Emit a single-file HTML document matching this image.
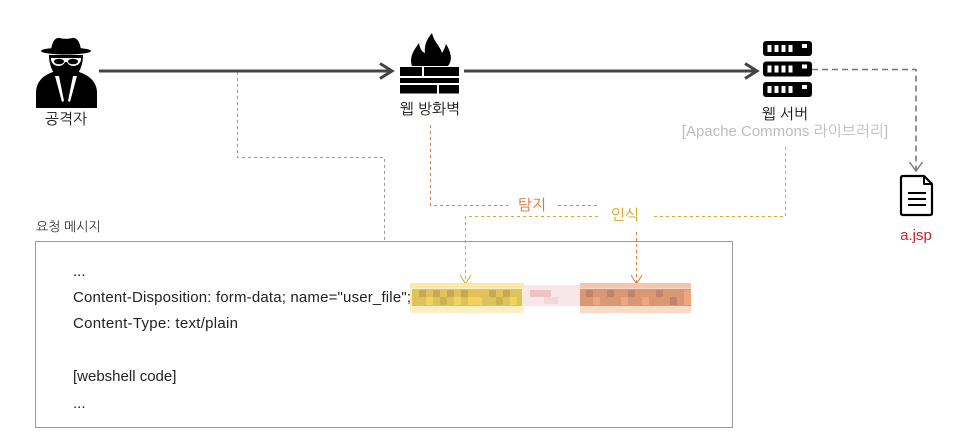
<!DOCTYPE html>
<html>
<head>
<meta charset="utf-8">
<style>
html,body{margin:0;padding:0;background:#fff;}
svg{display:block;}
text{font-family:"Liberation Sans","NanumGothic","Noto Sans CJK KR",sans-serif;}
</style>
</head>
<body>
<svg width="960" height="448" viewBox="0 0 960 448" xmlns="http://www.w3.org/2000/svg">
  <!-- request message box -->
  <rect x="35.5" y="241.5" width="697" height="186" fill="#fff" stroke="#9a9a9a" stroke-width="1"/>
  <text x="36" y="231" font-size="13" fill="#333">요청 메시지</text>

  <!-- gray dashed from attacker arrow to box -->
  <path d="M237.5,72 V157.5 H384.5 V241" fill="none" stroke="#9a9a9a" stroke-width="1" stroke-dasharray="3,3"/>

  <!-- main arrows -->
  <line x1="99" y1="71" x2="391" y2="71" stroke="#444" stroke-width="3"/>
  <polyline points="380,63.5 392,71 380,78.5" fill="none" stroke="#444" stroke-width="3" stroke-linejoin="miter"/>
  <line x1="464" y1="71" x2="756" y2="71" stroke="#444" stroke-width="3"/>
  <polyline points="745,63.5 757,71 745,78.5" fill="none" stroke="#444" stroke-width="3"/>

  <!-- server to file dashed -->
  <path d="M812,69.5 H916 V170" fill="none" stroke="#777" stroke-width="1.6" stroke-dasharray="6,4"/>
  <polyline points="909.5,162 916,171 922.5,162" fill="none" stroke="#777" stroke-width="1.4"/>

  <!-- attacker icon -->
  <g fill="#000">
    <path d="M51,50 C52,42 55,37 60,38 C63,39 69,39 72,38 C77,37 80,42 81,50 Z"/>
    <ellipse cx="66" cy="51" rx="25" ry="3.5"/>
    <path d="M49,55 H83 C83,62 81,69 78,73 H54 C51,69 49,62 49,55 Z"/>
    <path d="M36,108 V93 C36,81 44,75 53,72 L79,72 C88,75 97,81 97,93 V108 Z"/>
  </g>
  <g fill="#fff">
    <path d="M51,58 H81 V60 C80,64 77,66 73,66 C70,66 68,64 67,62 H65 C64,64 62,66 59,66 C55,66 52,64 51,60 Z"/>
  </g>
  <g fill="#000">
    <ellipse cx="59" cy="61.5" rx="5" ry="2.8"/>
    <ellipse cx="73" cy="61.5" rx="5" ry="2.8"/>
  </g>
  <g fill="#fff">
    <polygon points="55,76 59,76 64,101 62,102"/>
    <polygon points="77,76 73,76 68,101 70,102"/>
  </g>
  <text x="66" y="124" font-size="15" fill="#111" text-anchor="middle">공격자</text>

  <!-- firewall icon -->
  <path d="M412,66 C409,57 414,50 419,43 C420,49 422,52 425,53 C424,45 427,39 432,33 C434,42 440,46 442,53 C444,50 445,47 446,44 C451,52 453,60 448,66 Z" fill="#000"/>
  <g fill="#000">
    <rect x="400" y="67" width="22" height="9"/>
    <rect x="424" y="67" width="35" height="9"/>
    <rect x="400" y="78" width="59" height="5"/>
    <rect x="400" y="85" width="37" height="8.5"/>
    <rect x="439" y="85" width="20" height="8.5"/>
  </g>
  <text x="430" y="114" font-size="15" fill="#111" text-anchor="middle">웹 방화벽</text>

  <!-- server icon -->
  <g fill="#000">
    <rect x="763" y="41" width="49" height="15" rx="3"/>
    <rect x="763" y="61.5" width="49" height="15" rx="3"/>
    <rect x="763" y="82" width="49" height="15" rx="3"/>
  </g>
  <g fill="#fff">
    <rect x="767.5" y="45" width="4" height="7"/><rect x="774.5" y="45" width="4" height="7"/><rect x="781.5" y="45" width="4" height="7"/><rect x="788.5" y="45" width="4" height="7"/><rect x="802" y="44" width="5" height="4"/>
    <rect x="767.5" y="65.5" width="4" height="7"/><rect x="774.5" y="65.5" width="4" height="7"/><rect x="781.5" y="65.5" width="4" height="7"/><rect x="788.5" y="65.5" width="4" height="7"/><rect x="802" y="64.5" width="5" height="4"/>
    <rect x="767.5" y="86" width="4" height="7"/><rect x="774.5" y="86" width="4" height="7"/><rect x="781.5" y="86" width="4" height="7"/><rect x="788.5" y="86" width="4" height="7"/><rect x="802" y="85" width="5" height="4"/>
  </g>
  <text x="785" y="119" font-size="15" fill="#111" text-anchor="middle">웹 서버</text>
  <text x="785" y="136" font-size="15" fill="#bcbcbc" text-anchor="middle">[Apache Commons 라이브러리]</text>

  <!-- file icon -->
  <path d="M903,176 H924 L932,184 V213 Q932,215 930,215 H903 Q901,215 901,213 V178 Q901,176 903,176 Z" fill="#fff" stroke="#000" stroke-width="2.2" stroke-linejoin="round"/>
  <path d="M924,176 V184 H932" fill="none" stroke="#000" stroke-width="2" stroke-linejoin="round"/>
  <g stroke="#000" stroke-width="2">
    <line x1="908" y1="193" x2="926" y2="193"/>
    <line x1="908" y1="199" x2="926" y2="199"/>
    <line x1="908" y1="205" x2="926" y2="205"/>
  </g>
  <text x="916" y="240" font-size="15" fill="#d0202a" text-anchor="middle">a.jsp</text>

  <!-- orange detection line -->
  <path d="M430.5,125 V205.5 H508" fill="none" stroke="#e07a40" stroke-width="1" stroke-dasharray="3,3"/>
  <line x1="558" y1="205.5" x2="599" y2="205.5" stroke="#e07a40" stroke-width="1" stroke-dasharray="3,3"/>
  <text x="532" y="210" font-size="15" fill="#e07035" text-anchor="middle">탐지</text>

  <!-- yellow recognition line -->
  <path d="M785.5,147 V216.5 H652" fill="none" stroke="#d9a82a" stroke-width="1" stroke-dasharray="3,3"/>
  <path d="M598,216.5 H465.5 V283" fill="none" stroke="#d9a82a" stroke-width="1" stroke-dasharray="3,3"/>
  <polyline points="460,275 465.5,284 471,275" fill="none" stroke="#d9a82a" stroke-width="1"/>
  <text x="625" y="220" font-size="15" fill="#d4a020" text-anchor="middle">인식</text>

  <!-- orange vertical to pixel box -->
  <line x1="636.5" y1="232" x2="636.5" y2="283" stroke="#e07a40" stroke-width="1" stroke-dasharray="3,3"/>
  <polyline points="631,275 636.5,284 642,275" fill="none" stroke="#e07a40" stroke-width="1"/>

  <!-- code text -->
  <g font-size="15" fill="#222">
    <text x="73" y="276">...</text>
    <text x="73" y="302" textLength="338" lengthAdjust="spacing">Content-Disposition: form-data; name="user_file";</text>
    <text x="73" y="328" textLength="165" lengthAdjust="spacing">Content-Type: text/plain</text>
    <text x="73" y="381">[webshell code]</text>
    <text x="73" y="408">...</text>
  </g>

  <!-- pixelated yellow -->
  <rect x="410" y="283" width="114" height="30" fill="#fdefc4"/>
  <rect x="412" y="289" width="110" height="17" fill="#e0c25a"/>
  <g fill="#c6a953">
    <rect x="419" y="290" width="7" height="7"/><rect x="433" y="290" width="7" height="7"/><rect x="447" y="290" width="7" height="7"/><rect x="461" y="290" width="7" height="7"/><rect x="489" y="290" width="7" height="7"/><rect x="503" y="290" width="7" height="7"/>
  </g>
  <g fill="#f2d25c">
    <rect x="426" y="297" width="7" height="8"/><rect x="454" y="297" width="7" height="8"/><rect x="468" y="297" width="14" height="8"/><rect x="510" y="297" width="7" height="8"/>
  </g>
  <g fill="#d0b14e">
    <rect x="440" y="297" width="7" height="8"/><rect x="496" y="297" width="7" height="8"/>
  </g>
  <rect x="410" y="283" width="114" height="5" fill="#fde8a6"/>
  <!-- pink middle -->
  <rect x="524" y="285" width="56" height="21" fill="#f9e6e8"/>
  <rect x="530" y="290" width="21" height="7" fill="#efc2c8"/>
  <rect x="544" y="297" width="14" height="7" fill="#f3d6da"/>
  <!-- pixelated orange -->
  <rect x="580" y="283" width="111" height="30" fill="#f9dac8"/>
  <rect x="580" y="289" width="111" height="17" fill="#d99874"/>
  <g fill="#c1846a">
    <rect x="586" y="290" width="7" height="7"/><rect x="607" y="290" width="7" height="7"/><rect x="628" y="290" width="7" height="7"/><rect x="656" y="290" width="7" height="7"/><rect x="670" y="297" width="7" height="8"/>
  </g>
  <g fill="#eea67e">
    <rect x="593" y="297" width="7" height="8"/><rect x="621" y="297" width="7" height="8"/><rect x="642" y="297" width="7" height="8"/><rect x="684" y="290" width="7" height="15"/>
  </g>
  <rect x="580" y="283" width="111" height="5" fill="#f6c6aa"/>
</svg>
</body>
</html>
